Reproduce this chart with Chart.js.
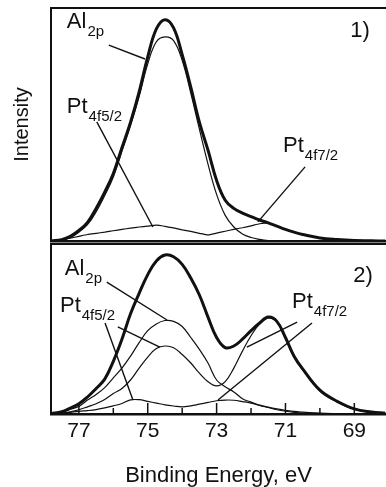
<!DOCTYPE html>
<html lang="en">
<head>
<meta charset="UTF-8">
<title>Al2p / Pt4f XPS</title>
<script src="https://cdn.jsdelivr.net/npm/chart.js"></script>
<style>
  body { margin: 0; background: #fff; }
  #wrap { position: relative; width: 386px; height: 487px; }
  .panel { position: absolute; left: 0; width: 386px; }
  #p1 { top: 0; height: 243px; }
  #p2 { top: 243px; height: 244px; }
</style>
</head>
<body>
<div id="wrap">
  <div class="panel" id="p1"><canvas id="c1"></canvas></div>
  <div class="panel" id="p2"><canvas id="c2"></canvas></div>
</div>
<script>
// binding energy (eV) at which the curves were read
const energy = [77.8, 77.5, 77.25, 77.0, 76.75, 76.5, 76.25, 76.0, 75.75, 75.5,
                75.25, 75.0, 74.75, 74.5, 74.25, 74.0, 73.75, 73.5, 73.25, 73.0,
                72.75, 72.5, 72.25, 72.0, 71.75, 71.5, 71.25, 71.0, 70.75, 70.5,
                70.0, 69.5, 69.0, 68.5, 68.1];

// panel 1)
const env1 = [0, 0.6, 2, 4.5, 8, 14, 21, 29, 40, 51,
              64, 79, 91, 95, 91.5, 80, 66, 51, 39, 26,
              17.5, 14, 12, 10.5, 9, 7.8, 6.4, 5, 3.8, 2.8,
              1.3, 0.6, 0.2, 0.1, 0];
const al1 = [0, 0.4, 1.5, 3.8, 7, 12.5, 19.5, 27.5, 38.5, 49.5,
             62, 76, 85.5, 87.6, 86, 77.5, 63.5, 48, 33, 20,
             11, 6, 3, 1.5, 0.7, 0.2, 0, 0, 0, 0,
             0, 0, 0, 0, 0];
const pt1 = [0, 0.5, 1.2, 2, 2.8, 3.3, 3.8, 4.4, 5, 5.5,
             6, 6.4, 6.8, 6.3, 5.6, 4.8, 4.1, 3.3, 2.6, 3.4,
             4.2, 5, 5.7, 6.5, 7.4, 7.8, 6.4, 5, 3.8, 2.8,
             1.3, 0.6, 0.2, 0.1, 0];

// panel 2)
const env2 = [0.2, 1.3, 3.5, 6, 10, 15, 20.5, 31, 44, 59,
              71, 82, 90, 93.5, 92.5, 88, 80, 70, 57, 45,
              39, 40, 44, 49, 53.5, 57, 54.5, 45, 34, 26.5,
              14, 7.5, 3, 1.2, 0.5];
const al2 = [0, 1.2, 2.8, 4.5, 8.2, 11.5, 15.5, 21.3, 27, 34,
             42, 49, 53, 55, 54.5, 51.5, 45, 38, 30, 20,
             16, 13, 9, 7, 5, 3.8, 2.5, 1.6, 1, 0.6,
             0.3, 0.1, 0, 0, 0];
const pt2 = [0, 0.6, 1.3, 2.5, 4.2, 6, 8.5, 12, 15, 20,
             27, 33.5, 38.5, 40, 39, 35, 30, 24, 19, 16.5,
             19, 27, 37, 46, 53, 56.5, 54, 44.5, 33.5, 26,
             13.5, 7, 2.8, 1, 0.4];
const small2 = [0, 0.4, 1, 1.6, 2, 2.6, 3.6, 4.8, 6.2, 8.3,
                8.4, 7.4, 6.4, 5.4, 4.7, 4.2, 4.8, 5.8, 6.8, 7.8,
                8.2, 8.1, 7.3, 6.4, 5.2, 4, 3, 2.2, 1.5, 1.1,
                0.5, 0.2, 0, 0, 0];

const tickValues = [77, 76, 75, 74, 73, 72, 71, 70, 69];
const tickLabels = ['77', '', '75', '', '73', '', '71', '', '69'];

// leader lines [from, to] in (eV, intensity)
const leaders1 = [[[76.13, 84.1], [75.08, 78.1]],
                  [[76.48, 51.1], [74.85, 6.0]],
                  [[70.43, 31.8], [71.80, 8.2]]];
const leaders2 = [[[76.19, 77.6], [74.44, 55.3]],
                  [[76.24, 53.5], [75.43, 8.2]],
                  [[75.87, 51.2], [74.65, 39.4]],
                  [[70.66, 54.1], [72.12, 39.4]],
                  [[70.23, 53.5], [72.96, 8.2]]];

const notes1 = [{t: 'Al', s: '2p', x: 77.35, y: 91.4},
                {t: 'Pt', s: '4f5/2', x: 77.35, y: 54.9},
                {t: 'Pt', s: '4f7/2', x: 71.07, y: 38.2},
                {t: '1)', s: '', x: 69.12, y: 87.6}];
const notes2 = [{t: 'Al', s: '2p', x: 77.41, y: 81.8},
                {t: 'Pt', s: '4f5/2', x: 77.55, y: 60},
                {t: 'Pt', s: '4f7/2', x: 70.81, y: 62.4},
                {t: '2)', s: '', x: 69.03, y: 77.6}];

const ink = '#111';
const FONT = '"Liberation Sans", Arial, Helvetica, sans-serif';
Chart.defaults.font.family = FONT;
Chart.defaults.color = ink;

const curve = (vals, w, t) => ({
    data: energy.map((e, i) => ({x: e, y: vals[i]})),
    borderColor: ink, borderWidth: w, pointRadius: 0, tension: t, fill: false
});
const leader = ([a, b]) => ({
    data: [{x: a[0], y: a[1]}, {x: b[0], y: b[1]}],
    borderColor: ink, borderWidth: 1.4, pointRadius: 0, tension: 0, fill: false
});

// text labels with subscripts, placed through the scales
const notesPlugin = {
    id: 'notes',
    afterDatasetsDraw(chart, args, opts) {
        const {ctx, scales: {x, y}} = chart;
        ctx.save();
        ctx.fillStyle = ink;
        ctx.textAlign = 'left';
        ctx.textBaseline = 'alphabetic';
        opts.items.forEach(n => {
            const px = x.getPixelForValue(n.x), py = y.getPixelForValue(n.y);
            ctx.font = '22px ' + FONT;
            ctx.fillText(n.t, px, py);
            if (n.s) {
                const w = ctx.measureText(n.t).width;
                ctx.font = '15px ' + FONT;
                ctx.fillText(n.s, px + w + 1, py + 8);
            }
        });
        ctx.restore();
    }
};

// top edge of each panel
const framePlugin = {
    id: 'frame',
    afterDraw(chart) {
        const {ctx, chartArea: a} = chart;
        ctx.save();
        ctx.strokeStyle = ink;
        ctx.lineWidth = 2;
        ctx.beginPath();
        ctx.moveTo(a.left, a.top);
        ctx.lineTo(a.right, a.top);
        ctx.stroke();
        ctx.restore();
    }
};

// tick marks pointing into the plot
const innerTicks = {
    id: 'innerTicks',
    afterDraw(chart) {
        const {ctx, chartArea: a, scales: {x}} = chart;
        ctx.save();
        ctx.strokeStyle = ink;
        ctx.lineWidth = 1.5;
        tickValues.forEach((v, i) => {
            const px = x.getPixelForValue(v);
            const len = tickLabels[i] ? 11 : 6;
            ctx.beginPath();
            ctx.moveTo(px, a.bottom);
            ctx.lineTo(px, a.bottom - len);
            ctx.stroke();
        });
        ctx.restore();
    }
};

const xBase = {
    type: 'linear', reverse: true, min: 68.08, max: 77.81,
    grid: {drawOnChartArea: false, drawTicks: false},
    border: {display: true, width: 2.5, color: ink}
};
const yBase = {
    min: 0, max: 100,
    afterFit: s => { s.width = 51; },
    ticks: {display: false},
    grid: {drawOnChartArea: false, drawTicks: false},
    border: {display: true, width: 2, color: ink}
};
const common = {
    responsive: true, maintainAspectRatio: false, animation: false,
    events: []
};

new Chart(document.getElementById('c1'), {
    type: 'line',
    data: {datasets: [curve(env1, 3, 0.4), curve(al1, 1.2, 0.4), curve(pt1, 1.2, 0.2)]
        .concat(leaders1.map(leader))},
    options: Object.assign({}, common, {
        layout: {padding: {top: 8, bottom: 2, left: 0, right: 0}},
        scales: {
            x: Object.assign({}, xBase, {ticks: {display: false}}),
            y: Object.assign({}, yBase, {
                title: {display: true, text: 'Intensity', font: {size: 20}, color: ink, padding: {top: 10, bottom: 0}}
            })
        },
        plugins: {legend: {display: false}, tooltip: {enabled: false}, notes: {items: notes1}}
    }),
    plugins: [notesPlugin, framePlugin]
});

new Chart(document.getElementById('c2'), {
    type: 'line',
    data: {datasets: [curve(env2, 3, 0.4), curve(al2, 1.2, 0.4), curve(pt2, 1.2, 0.4), curve(small2, 1.2, 0.4)]
        .concat(leaders2.map(leader))},
    options: Object.assign({}, common, {
        layout: {padding: {top: 1, bottom: 0, left: 0, right: 0}},
        scales: {
            x: Object.assign({}, xBase, {
                afterBuildTicks: s => { s.ticks = tickValues.map(v => ({value: v})); },
                afterFit: s => { s.height = 73; },
                ticks: {
                    display: true, autoSkip: false, maxRotation: 0, padding: 5,
                    font: {size: 21}, color: ink,
                    callback: v => tickLabels[tickValues.indexOf(v)]
                },
                title: {display: true, text: 'Binding Energy, eV', font: {size: 22, lineHeight: 1.0}, color: ink, padding: 0}
            }),
            y: yBase
        },
        plugins: {legend: {display: false}, tooltip: {enabled: false}, notes: {items: notes2}}
    }),
    plugins: [notesPlugin, framePlugin, innerTicks]
});
</script>
</body>
</html>
